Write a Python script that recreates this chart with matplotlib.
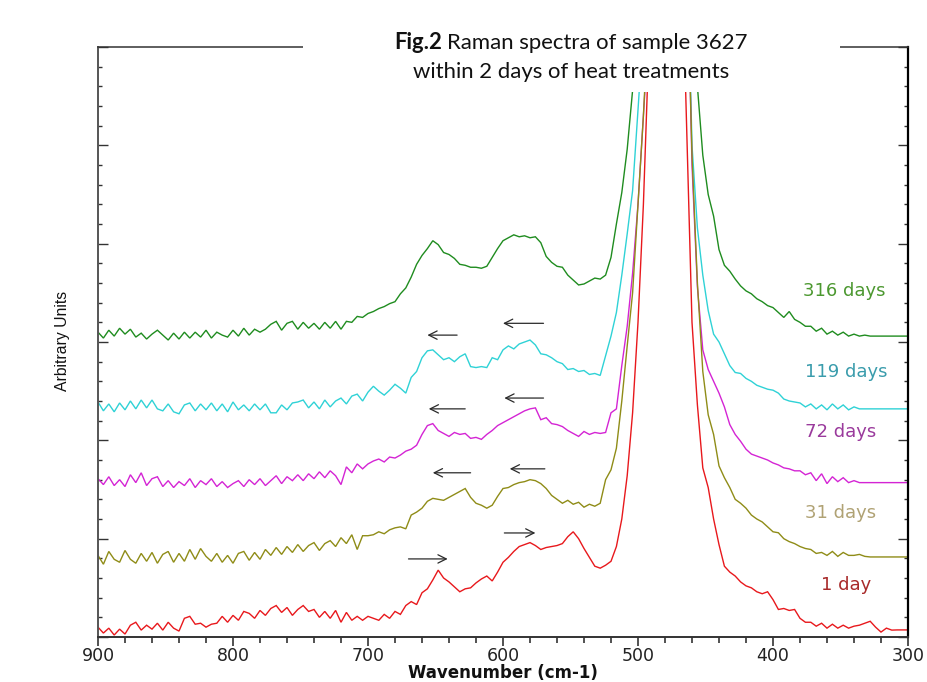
import numpy as np
import matplotlib
matplotlib.use("Agg")
import matplotlib.pyplot as plt
from matplotlib.patches import Rectangle
from matplotlib.ticker import MultipleLocator, NullFormatter

# Raman shift sampling (cm-1), high to low
wavenumber = np.arange(900, 296, -4)

# Intensities (arbitrary units, stacked) for each storage time
day_1 = [
    0.50, 0.20, 0.45, 0.10, 0.40, 0.15, 0.60, 0.75, 0.35, 0.60,
    0.40, 0.70, 0.35, 0.75, 0.45, 0.30, 0.95, 1.05, 0.65, 0.70,
    0.50, 0.65, 0.70, 1.05, 0.75, 1.10, 0.85, 1.30, 1.20, 0.95,
    1.35, 1.10, 1.45, 1.60, 1.25, 1.50, 1.10, 1.40, 1.60, 1.30,
    1.40, 1.00, 1.30, 0.95, 1.35, 0.75, 1.25, 0.85, 1.05, 0.85,
    1.05, 0.95, 0.85, 1.15, 0.95, 1.30, 1.15, 1.60, 1.80, 1.65,
    2.25, 2.45, 2.90, 3.40, 3.00, 2.80, 2.55, 2.30, 2.45, 2.50,
    2.75, 2.95, 3.10, 2.85, 3.30, 3.80, 4.05, 4.35, 4.60, 4.70,
    4.80, 4.65, 4.45, 4.55, 4.60, 4.65, 4.75, 5.10, 5.35, 5.00,
    4.50, 4.05, 3.60, 3.50, 3.65, 3.85, 4.60, 6.00, 8.20, 11.4,
    16.0, 22.0, 30.0, 45.0, 60.0, 68.0, 62.0, 48.0, 36.0, 26.0,
    16.0, 11.8, 8.60, 7.60, 6.00, 4.70, 3.60, 3.30, 3.10, 2.80,
    2.60, 2.50, 2.30, 2.20, 2.30, 1.90, 1.40, 1.45, 1.35, 1.40,
    0.95, 0.75, 0.75, 0.55, 0.70, 0.45, 0.65, 0.45, 0.60, 0.45,
    0.55, 0.60, 0.70, 0.80, 0.50, 0.25, 0.45, 0.35, 0.36, 0.36,
    0.36,
]
days_31 = [
    4.15, 3.70, 4.35, 3.95, 3.80, 4.40, 3.95, 3.75, 4.25, 3.85,
    4.30, 3.75, 4.20, 4.35, 3.80, 4.25, 3.85, 4.45, 3.95, 4.50,
    4.10, 3.85, 4.25, 3.80, 4.15, 3.75, 4.25, 4.35, 3.90, 4.30,
    3.95, 4.45, 4.15, 4.55, 4.20, 4.60, 4.30, 4.70, 4.35, 4.65,
    4.80, 4.40, 4.75, 4.90, 4.60, 5.05, 4.75, 5.20, 4.45, 5.15,
    5.15, 5.20, 5.35, 5.25, 5.45, 5.55, 5.60, 5.50, 6.20, 6.35,
    6.55, 6.90, 7.05, 7.00, 6.95, 7.10, 7.25, 7.40, 7.55, 7.10,
    6.80, 6.70, 6.55, 6.70, 7.15, 7.55, 7.60, 7.75, 7.85, 7.90,
    8.00, 7.95, 7.80, 7.55, 7.20, 7.00, 6.80, 6.95, 6.75, 6.85,
    6.60, 6.75, 6.65, 6.80, 8.00, 8.50, 9.60, 12.0, 14.8, 17.5,
    22.0, 26.5, 32.0, 45.0, 60.0, 68.0, 65.0, 55.0, 45.0, 35.0,
    24.5, 18.0, 13.5, 11.3, 10.3, 8.70, 8.10, 7.60, 7.00, 6.80,
    6.55, 6.20, 6.00, 5.85, 5.60, 5.35, 5.30, 5.00, 4.85, 4.75,
    4.60, 4.50, 4.45, 4.25, 4.30, 4.15, 4.35, 4.10, 4.30, 4.15,
    4.15, 4.20, 4.10, 4.07, 4.07, 4.07, 4.07, 4.07, 4.07, 4.07,
    4.07,
]
days_72 = [
    8.05, 7.75, 8.15, 7.70, 8.00, 7.65, 8.25, 7.85, 8.35, 7.70,
    8.05, 8.15, 7.65, 7.95, 7.60, 7.90, 7.70, 8.05, 7.60, 7.95,
    7.75, 8.05, 7.65, 7.90, 7.60, 7.80, 7.95, 7.65, 8.00, 7.75,
    8.05, 7.70, 7.95, 8.20, 7.80, 8.15, 7.95, 8.25, 7.95, 8.30,
    8.05, 8.40, 8.10, 8.45, 8.20, 7.75, 8.65, 8.35, 8.80, 8.55,
    8.80, 8.95, 9.05, 8.90, 9.15, 9.10, 9.25, 9.45, 9.55, 9.75,
    10.30, 10.75, 10.85, 10.50, 10.35, 10.20, 10.40, 10.30, 10.35, 10.10,
    10.15, 10.05, 10.30, 10.50, 10.75, 10.90, 11.05, 11.20, 11.35, 11.50,
    11.60, 11.65, 11.05, 11.15, 10.85, 10.80, 10.70, 10.50, 10.35, 10.20,
    10.45, 10.30, 10.40, 10.35, 10.40, 11.40, 11.60, 13.80, 15.80, 18.50,
    22.0, 26.5, 31.0, 45.0, 60.0, 68.0, 65.0, 55.0, 45.0, 36.0,
    24.0, 17.8, 14.6, 13.6, 13.0, 12.4, 11.7, 10.8, 10.3, 9.95,
    9.55, 9.30, 9.20, 9.10, 9.00, 8.85, 8.75, 8.60, 8.55, 8.45,
    8.45, 8.25, 8.35, 7.95, 8.30, 7.80, 8.15, 7.90, 8.10, 7.85,
    7.95, 7.85, 7.85, 7.85, 7.85, 7.85, 7.85, 7.85, 7.85, 7.85,
    7.85,
]
days_119 = [
    11.95, 11.50, 11.85, 11.45, 11.90, 11.55, 12.00, 11.60, 12.05, 11.65,
    12.05, 11.60, 11.50, 11.85, 11.45, 11.35, 11.80, 11.90, 11.50, 11.85,
    11.55, 11.90, 11.50, 11.85, 11.45, 11.95, 11.55, 11.80, 11.50, 11.85,
    11.55, 11.85, 11.40, 11.40, 11.80, 11.55, 11.90, 11.95, 12.05, 11.65,
    11.95, 11.60, 12.05, 11.70, 12.00, 12.15, 11.85, 12.25, 12.35, 12.00,
    12.45, 12.75, 12.50, 12.30, 12.55, 12.85, 12.65, 12.40, 13.20, 13.50,
    14.20, 14.55, 14.60, 14.35, 14.10, 14.20, 14.00, 14.25, 14.40, 13.75,
    13.70, 13.75, 13.70, 14.20, 14.10, 14.60, 14.80, 14.65, 14.90, 15.00,
    15.10, 14.85, 14.40, 14.35, 14.20, 14.00, 13.90, 13.60, 13.65, 13.50,
    13.55, 13.35, 13.40, 13.30, 14.30, 15.30, 16.50, 18.40, 20.50, 22.70,
    26.8, 31.0, 38.0, 50.0, 62.0, 68.0, 65.0, 55.0, 45.0, 36.0,
    25.0, 20.8, 18.4, 16.6, 15.4, 15.0, 14.4, 13.8, 13.45, 13.40,
    13.15, 13.00, 12.80, 12.70, 12.60, 12.55, 12.40, 12.10, 12.00, 11.95,
    11.90, 11.70, 11.85, 11.60, 11.80, 11.55, 11.85, 11.60, 11.80, 11.55,
    11.70, 11.60, 11.60, 11.60, 11.60, 11.60, 11.60, 11.60, 11.60, 11.60,
    11.60,
]
days_316 = [
    15.50, 15.20, 15.60, 15.30, 15.70, 15.40, 15.65, 15.25, 15.45, 15.15,
    15.40, 15.60, 15.35, 15.10, 15.45, 15.15, 15.50, 15.20, 15.50, 15.25,
    15.60, 15.20, 15.50, 15.35, 15.25, 15.60, 15.30, 15.70, 15.35, 15.65,
    15.50, 15.65, 15.90, 16.05, 15.60, 15.95, 16.05, 15.65, 16.00, 15.70,
    15.95, 15.65, 16.00, 15.70, 16.05, 15.65, 16.05, 16.00, 16.30, 16.25,
    16.45, 16.55, 16.70, 16.80, 16.95, 17.05, 17.45, 17.75, 18.30, 18.95,
    19.40, 19.75, 20.15, 19.95, 19.55, 19.45, 19.25, 18.95, 18.90, 18.80,
    18.80, 18.75, 18.85, 19.30, 19.75, 20.15, 20.30, 20.45, 20.35, 20.40,
    20.30, 20.35, 20.05, 19.35, 19.05, 18.85, 18.80, 18.40, 18.15, 17.90,
    17.95, 18.10, 18.25, 18.20, 18.40, 19.30, 21.00, 22.60, 24.80, 27.80,
    32.0, 40.0, 50.0, 60.0, 68.0, 72.0, 70.0, 62.0, 52.0, 42.0,
    34.0, 28.0, 24.5, 22.5, 21.4, 19.7, 18.9, 18.6, 18.2, 17.85,
    17.60, 17.45, 17.20, 17.05, 16.85, 16.75, 16.50, 16.25, 16.55, 16.15,
    16.00, 15.80, 15.80, 15.55, 15.70, 15.40, 15.55, 15.35, 15.50, 15.30,
    15.40, 15.30, 15.35, 15.30, 15.30, 15.30, 15.30, 15.30, 15.30, 15.30,
    15.30,
]

series_names = ["316 days", "119 days", "72 days", "31 days", "1 day"]
series_values = [days_316, days_119, days_72, days_31, day_1]
line_colors = ["#1f8c1f", "#2fd2d6", "#d424d4", "#8f8c17", "#e8181c"]
label_colors = ["#4c9830", "#3a9cac", "#9a3a9c", "#b0a274", "#a82a2a"]
label_pos = [(347, 17.6), (346, 13.45), (350, 10.4), (350, 6.3), (346, 2.65)]

# band-shift arrows: (tail wavenumber, head wavenumber, height)
shift_arrows = [
    (634, 656, 15.35), (570, 600, 15.95),
    (628, 655, 11.6), (570, 599, 12.15),
    (624, 652, 8.35), (569, 595, 8.55),
    (670, 641, 3.97), (599, 576, 5.29),
]

W, H = 928, 682
fig = plt.figure(figsize=(W / 100, H / 100), dpi=100)
ax = fig.add_axes([98 / W, 1 - 637 / H, 810 / W, 590 / H])

for vals, col in zip(series_values, line_colors):
    ax.plot(wavenumber, vals, color=col, lw=1.0, solid_joinstyle="miter")

for name, col, (xp, yp) in zip(series_names, label_colors, label_pos):
    ax.text(xp, yp, name, color=col, fontsize=13, family="DejaVu Sans",
            ha="center", va="center")

for tail, head, yv in shift_arrows:
    ax.annotate("", xy=(head, yv), xytext=(tail, yv),
                arrowprops=dict(arrowstyle="->", color="#2a2a2a", lw=0.9,
                                mutation_scale=15, shrinkA=0, shrinkB=0))

ax.set_xlim(900, 300)
ax.set_ylim(0, 30)

ax.xaxis.set_major_locator(MultipleLocator(100))
ax.xaxis.set_minor_locator(MultipleLocator(20))
ax.yaxis.set_major_locator(MultipleLocator(5))
ax.yaxis.set_minor_locator(MultipleLocator(1))
ax.yaxis.set_major_formatter(NullFormatter())

ax.tick_params(axis="x", which="major", direction="out", length=6.5, width=1.1,
               colors="#222222", labelsize=12.5, pad=1.0)
ax.tick_params(axis="x", which="minor", direction="out", length=4.5, width=1.1,
               colors="#222222")
ax.tick_params(axis="y", which="major", direction="in", length=7, width=1.0,
               left=True, right=True, colors="#333333")
ax.tick_params(axis="y", which="minor", direction="in", length=3, width=1.0,
               left=True, right=True, colors="#333333")
for lab in ax.get_xticklabels():
    lab.set_family("DejaVu Sans")

ax.spines["left"].set_color("#555555")
ax.spines["left"].set_linewidth(1.4)
ax.spines["bottom"].set_color("#333333")
ax.spines["bottom"].set_linewidth(1.4)
ax.spines["right"].set_color("#000000")
ax.spines["right"].set_linewidth(1.6)
ax.spines["top"].set_color("#333333")
ax.spines["top"].set_linewidth(1.1)

fig.text(503 / W, 1 - 678 / H, "Wavenumber (cm-1)", fontsize=12,
         fontweight="bold", family="DejaVu Sans", color="#111111",
         ha="center", va="baseline")

renderer = fig.canvas.get_renderer()

# vertical axis caption, sized to span the same height as in the layout
ylab = fig.text(63 / W, 1 - 341 / H, "Arbitrary Units", rotation=90,
                family=["Liberation Sans", "DejaVu Sans"], fontsize=12,
                ha="center", va="center", color="#111111")
ylab_len = ylab.get_window_extent(renderer).height
ylab.set_fontsize(12 * 100 / ylab_len)

# title panel sits over the top of the frame
fig.add_artist(Rectangle((303 / W, 1 - 92 / H), (840 - 303) / W, 92 / H,
                         transform=fig.transFigure, facecolor="white",
                         edgecolor="none", zorder=10))

title_font = dict(family=["Lato", "DejaVu Sans"], fontsize=15.9, color="#111111",
                  va="baseline", ha="left", zorder=11)
t_bold = fig.text(0, 1 - 49 / H, "Fig.2", fontweight="bold", **title_font)
t_rest = fig.text(0, 1 - 49 / H, "Raman spectra of sample 3627", **title_font)
t_line2 = fig.text(571 / W, 1 - 78 / H, "within 2 days of heat treatments",
                   **{**title_font, "ha": "center"})

wb = t_bold.get_window_extent(renderer).width
wr = t_rest.get_window_extent(renderer).width
gap = 5
x0 = 571 - (wb + gap + wr) / 2
t_bold.set_x(x0 / W)
t_rest.set_x((x0 + wb + gap) / W)

fig.savefig("out.png", dpi=100, facecolor="white")
